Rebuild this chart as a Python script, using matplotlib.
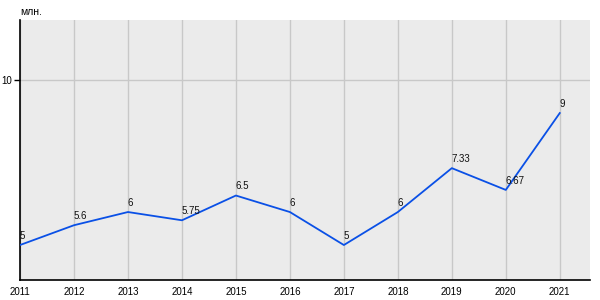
import matplotlib
matplotlib.use("Agg")
import matplotlib.pyplot as plt

plt.rcParams['font.family'] = ['Liberation Sans', 'DejaVu Sans']

years = [2011, 2012, 2013, 2014, 2015, 2016, 2017, 2018, 2019, 2020, 2021]
values = [5, 5.6, 6, 5.75, 6.5, 6, 5, 6, 7.33, 6.67, 9]
labels = ['5', '5.6', '6', '5.75', '6.5', '6', '5', '6', '7.33', '6.67', '9']

fig = plt.figure(figsize=(6, 3), dpi=100)
ax = fig.add_axes([20/600, 20/300, 570/600, 260/300])
ax.set_facecolor('#ebebeb')

ax.plot(years, values, color='#0a50e6', linewidth=1.3, zorder=3)
for x, y, t in zip(years, values, labels):
    ax.annotate(t, (x, y), xytext=(0, 3), textcoords='offset points',
                ha='left', va='bottom', fontsize=7, color='#111111', zorder=4)

ax.set_xlim(2011, 2021.56)
ax.set_ylim(3.94, 11.82)
ax.set_xticks(years)
ax.set_xticklabels([str(y) for y in years], fontsize=7)
ax.set_yticks([10])
ax.set_yticklabels(['10'], fontsize=7)
ax.tick_params(axis='x', length=0, pad=5)
ax.tick_params(axis='y', length=4, width=1, pad=2)
ax.grid(True, color='#c8c8c8', linewidth=1, zorder=0)
ax.set_axisbelow(True)
for s in ['top', 'right']:
    ax.spines[s].set_visible(False)
ax.spines['left'].set_color('black')
ax.spines['bottom'].set_color('black')
ax.spines['left'].set_linewidth(1.2)
ax.spines['bottom'].set_linewidth(1.2)

fig.text(20/600, 1 - 12/300, 'млн.', fontsize=7.5, ha='left', va='center')

fig.savefig('out.png', dpi=100)
